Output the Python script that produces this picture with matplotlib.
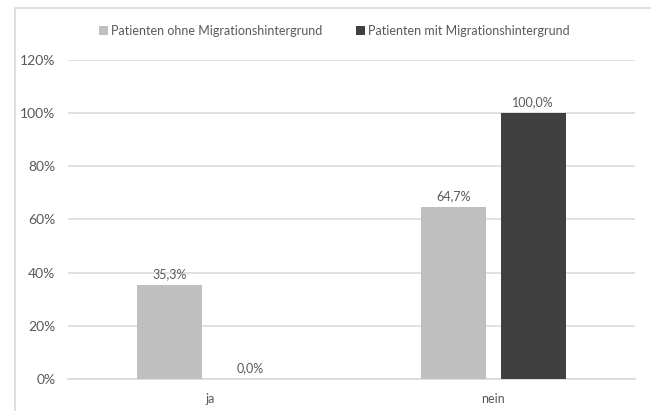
import matplotlib.pyplot as plt
import matplotlib.patches as mpatches
import numpy as np

categories = ["ja", "nein"]
series_names = ["Patienten ohne Migrationshintergrund", "Patienten mit Migrationshintergrund"]
ohne = [35.3, 64.7]
mit = [0.0, 100.0]
yticks = [0, 20, 40, 60, 80, 100, 120]

plt.rcParams['font.family'] = ['Lato', 'DejaVu Sans']
txtcol = "#595959"
colors = ["#bfbfbf", "#404040"]

fig = plt.figure(figsize=(6.51, 4.11), dpi=100)
ax = fig.add_axes([68 / 651, 1 - 379 / 411, (635 - 68) / 651, (379 - 60) / 411])

# outer chart frame (cut off at right and bottom)
fig.patches.append(mpatches.Rectangle((15 / 651, -0.1), 1.2, 1.1 - 8 / 411,
                                      transform=fig.transFigure, fill=False,
                                      edgecolor="#d9d9d9", linewidth=1.2))

x = np.arange(len(categories))
w = 0.228
off = 0.141
for i, (vals, name) in enumerate(zip([ohne, mit], series_names)):
    pos = x + (off if i else -off)
    bars = ax.bar(pos, [v / 100 for v in vals], width=w, color=colors[i], label=name, zorder=3)
    for b, v in zip(bars, vals):
        ax.text(b.get_x() + b.get_width() / 2, b.get_height() + 0.02,
                f"{v:.1f}%".replace(".", ","), ha="center", va="bottom",
                fontsize=9, color=txtcol)

ax.set_xlim(-0.5, 1.5)
ax.set_ylim(0, 1.2)
ax.set_yticks([t / 100 for t in yticks])
ax.set_yticklabels([f"{t}%" for t in yticks])
ax.set_xticks(x)
ax.set_xticklabels(categories)
ax.tick_params(axis="both", length=0, colors=txtcol, labelsize=9)
ax.tick_params(axis="y", pad=9, labelsize=10)
ax.tick_params(axis="x", pad=10)
ax.grid(axis="y", color="#d9d9d9", linewidth=1.1, zorder=0)
for s in ["top", "right", "left"]:
    ax.spines[s].set_visible(False)
ax.spines["bottom"].set_color("#d9d9d9")
ax.spines["bottom"].set_linewidth(1.2)

leg = fig.legend(loc="center", bbox_to_anchor=(334 / 651, 1 - 31 / 411), ncol=2,
                 frameon=False, fontsize=9, handlelength=0.75, handleheight=0.75,
                 handletextpad=0.2, columnspacing=2.7)
for t in leg.get_texts():
    t.set_color(txtcol)

fig.savefig("out.png", dpi=100)
